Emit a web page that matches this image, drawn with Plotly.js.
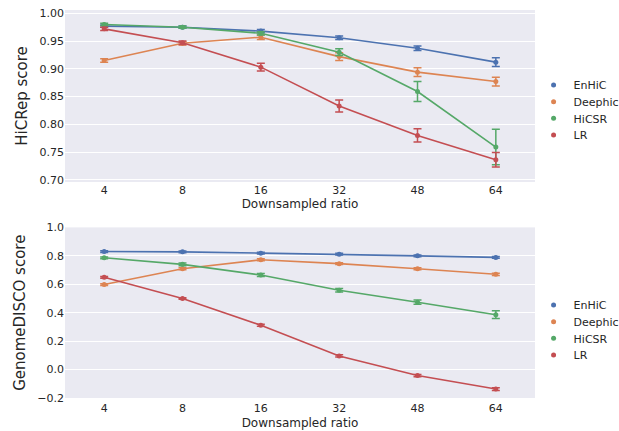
<!DOCTYPE html>
<html>
<head>
<meta charset="utf-8">
<script src="https://cdn.plot.ly/plotly-3.0.1.min.js"></script>
<style>html,body{margin:0;padding:0;background:#fff;overflow:hidden;}#chart{width:619px;height:431px;}</style>
</head>
<body>
<div id="chart"></div>
<script>
const ratios = ["4", "8", "16", "32", "48", "64"];
const methods = ["EnHiC", "Deephic", "HiCSR", "LR"];
const colors = ["#4C72B0", "#DD8452", "#55A868", "#C44E52"];

// HiCRep score (mean) and error half-widths
const hicrepEnHiC   = [0.977, 0.975, 0.968, 0.956, 0.937, 0.912];
const hicrepDeephic = [0.915, 0.946, 0.957, 0.922, 0.894, 0.877];
const hicrepHiCSR   = [0.980, 0.975, 0.964, 0.930, 0.859, 0.759];
const hicrepLR      = [0.972, 0.947, 0.903, 0.833, 0.780, 0.736];
const hicrepErrEnHiC   = [0.002, 0.002, 0.003, 0.003, 0.004, 0.008];
const hicrepErrDeephic = [0.003, 0.003, 0.004, 0.007, 0.008, 0.008];
const hicrepErrHiCSR   = [0.002, 0.002, 0.003, 0.006, 0.018, 0.032];
const hicrepErrLR      = [0.003, 0.003, 0.007, 0.011, 0.012, 0.013];

// GenomeDISCO score (mean) and error half-widths
const discoEnHiC   = [0.830, 0.828, 0.819, 0.812, 0.800, 0.789];
const discoDeephic = [0.598, 0.709, 0.772, 0.745, 0.709, 0.670];
const discoHiCSR   = [0.786, 0.740, 0.665, 0.558, 0.474, 0.386];
const discoLR      = [0.649, 0.500, 0.312, 0.096, -0.042, -0.137];
const discoErrEnHiC   = [0.006, 0.006, 0.006, 0.006, 0.006, 0.006];
const discoErrDeephic = [0.006, 0.007, 0.007, 0.006, 0.007, 0.008];
const discoErrHiCSR   = [0.006, 0.010, 0.010, 0.012, 0.015, 0.027];
const discoErrLR      = [0.006, 0.006, 0.007, 0.008, 0.008, 0.010];

const hicrep = [hicrepEnHiC, hicrepDeephic, hicrepHiCSR, hicrepLR];
const hicrepErr = [hicrepErrEnHiC, hicrepErrDeephic, hicrepErrHiCSR, hicrepErrLR];
const disco = [discoEnHiC, discoDeephic, discoHiCSR, discoLR];
const discoErr = [discoErrEnHiC, discoErrDeephic, discoErrHiCSR, discoErrLR];

const textColor = "#262626";
const font = {family: "DejaVu Sans", size: 11, color: textColor};
const traces = [];
const layoutLegends = {};

// legend item centre positions (pixels from top of the page)
const legendTopPx = [85, 101.7, 118.3, 135];
const legendBottomPx = [305, 321.7, 338.3, 355];

function addPanel(vals, errs, xa, ya, legendOffset, legendPx) {
  methods.forEach((m, i) => {
    traces.push({
      x: ratios, y: vals[i], xaxis: xa, yaxis: ya, type: "scatter", mode: "lines+markers",
      line: {color: colors[i], width: 1.6}, marker: {color: colors[i], size: 5},
      error_y: {type: "data", array: errs[i], visible: true, color: colors[i], thickness: 1.5, width: 4},
      showlegend: false, hoverinfo: "skip"
    });
  });
  methods.forEach((m, i) => {
    const idx = legendOffset + i;
    const lname = idx === 1 ? "legend" : "legend" + idx;
    traces.push({
      x: [null], y: [null], xaxis: xa, yaxis: ya, type: "scatter", mode: "markers",
      name: m, marker: {color: colors[i], size: 5}, legend: lname, showlegend: true
    });
    layoutLegends[lname] = {
      x: 0.997, xanchor: "left", y: (398 - legendPx[i]) / 388, yanchor: "middle",
      bgcolor: "rgba(0,0,0,0)", font: {family: "DejaVu Sans", size: 11, color: textColor}, itemwidth: 30
    };
  });
}
addPanel(hicrep, hicrepErr, "x", "y", 1, legendTopPx);
addPanel(disco, discoErr, "x2", "y2", 5, legendBottomPx);

const xCommon = {
  type: "category", range: [-0.5, 5.5], showgrid: false, zeroline: false,
  showline: false, ticks: "", tickfont: {family: "DejaVu Sans", size: 11, color: textColor},
  fixedrange: true
};
const yCommon = {
  showgrid: true, gridcolor: "#ffffff", gridwidth: 1, zeroline: false, showline: false,
  ticks: "", tickfont: {family: "DejaVu Sans", size: 11, color: textColor}
};

const layout = Object.assign({
  width: 619, height: 431,
  margin: {l: 65, r: 84, t: 10, b: 33, autoexpand: false},
  paper_bgcolor: "#ffffff", plot_bgcolor: "#EAEAF2",
  font: font,
  xaxis: Object.assign({}, xCommon, {anchor: "y", automargin: false,
    title: {text: "Downsampled ratio", font: {family: "DejaVu Sans", size: 12, color: textColor}, standoff: 2}}),
  xaxis2: Object.assign({}, xCommon, {anchor: "y2", ticklabelstandoff: 2, automargin: false,
    title: {text: "Downsampled ratio", font: {family: "DejaVu Sans", size: 12, color: textColor}, standoff: 4}}),
  yaxis: Object.assign({}, yCommon, {domain: [0.5567, 1], range: [0.696, 1.006], automargin: false,
    tickvals: [0.70, 0.75, 0.80, 0.85, 0.90, 0.95, 1.00], ticktext: ["0.70","0.75","0.80","0.85","0.90","0.95","1.00"],
    title: {text: "HiCRep score", font: {family: "DejaVu Sans", size: 15, color: textColor}, standoff: 8}}),
  yaxis2: Object.assign({}, yCommon, {domain: [0, 0.4397], range: [-0.2, 1.0], automargin: false,
    tickvals: [-0.2, 0.0, 0.2, 0.4, 0.6, 0.8, 1.0], ticktext: ["\u22120.2","0.0","0.2","0.4","0.6","0.8","1.0"],
    title: {text: "GenomeDISCO score", font: {family: "DejaVu Sans", size: 15, color: textColor}, standoff: 8}})
}, layoutLegends);

Plotly.newPlot("chart", traces, layout, {displayModeBar: false, staticPlot: true});
</script>
</body>
</html>
